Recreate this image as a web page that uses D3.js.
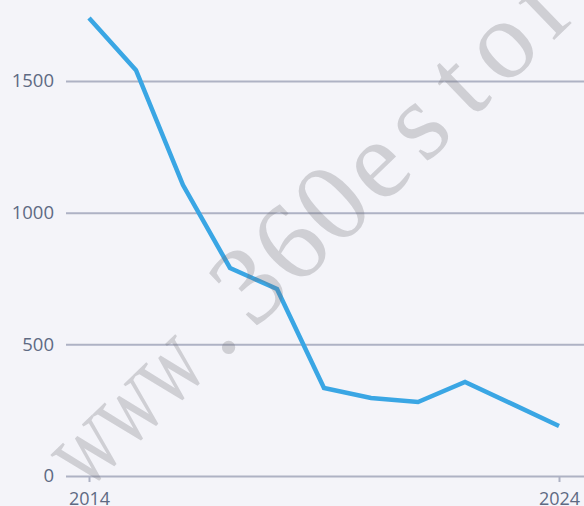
<!DOCTYPE html>
<html>
<head>
<meta charset="utf-8">
<script src="https://cdn.jsdelivr.net/npm/d3@7"></script>
<style>
  html, body { margin: 0; padding: 0; background: #f4f4f9; overflow: hidden; }
  svg { display: block; }
</style>
</head>
<body>
<div id="chart"></div>
<script>
const years = [2014, 2015, 2016, 2017, 2018, 2019, 2020, 2021, 2022, 2023, 2024];
const values = [1739, 1541, 1105, 790, 710, 334, 296, 281, 357, 274, 190];
const yTicks = [0, 500, 1000, 1500];
const xTicks = [2014, 2024];
const watermark = "www.360estore.com";

const width = 584, height = 506;
const labelFont = "'Open Sans', Inter, sans-serif";

const svg = d3.select("#chart")
    .append("svg")
    .attr("width", width)
    .attr("height", height);

svg.append("rect")
    .attr("width", width)
    .attr("height", height)
    .attr("fill", "#f4f4f9");

const x = d3.scaleLinear()
    .domain([2014, 2024])
    .range([89, 559]);

const y = d3.scaleLinear()
    .domain([0, 1500])
    .range([476, 81]);

// grid + y labels
const yAxis = d3.axisLeft(y)
    .tickValues(yTicks)
    .tickSize(-(width - 66))
    .tickPadding(12)
    .tickFormat(d3.format("d"));

const gy = svg.append("g")
    .attr("transform", "translate(66,0)")
    .call(yAxis);
gy.select(".domain").remove();
gy.selectAll(".tick line")
    .attr("stroke", "#aeb2c4")
    .attr("stroke-width", 2);
gy.selectAll(".tick text")
    .attr("fill", "#5e6a83")
    .style("font-family", labelFont)
    .style("font-size", "18.5px");

// x axis
const xAxis = d3.axisBottom(x)
    .tickValues(xTicks)
    .tickSize(6)
    .tickPadding(10)
    .tickFormat(d3.format("d"));

const gx = svg.append("g")
    .attr("transform", "translate(0,476)")
    .call(xAxis);
gx.select(".domain").remove();
gx.selectAll(".tick line")
    .attr("stroke", "#aeb2c4")
    .attr("stroke-width", 2);
gx.selectAll(".tick text")
    .attr("fill", "#5e6a83")
    .style("font-family", labelFont)
    .style("font-size", "18px");

// line
const line = d3.line()
    .x((d, i) => x(years[i]))
    .y(d => y(d));

svg.append("path")
    .datum(values)
    .attr("fill", "none")
    .attr("stroke", "#3aa6e4")
    .attr("stroke-width", 4.5)
    .attr("d", line);

// watermark: serif glyphs on a fixed-pitch grid, wide letters squeezed
const adv = 58;
const wm = svg.append("g")
    .attr("transform", "translate(86,492) rotate(-44)")
    .attr("fill", "rgba(110,110,120,0.28)")
    .style("font-family", "'Liberation Serif', 'DejaVu Serif', serif")
    .style("font-size", "112px");

wm.selectAll("text")
    .data(watermark.split(""))
    .enter()
    .append("text")
    .attr("text-anchor", "middle")
    .attr("transform", (c, i) => `translate(${i * adv + adv / 2},0) scale(${c === "w" || c === "m" ? 0.72 : 1},1)`)
    .text(c => c);
</script>
</body>
</html>
